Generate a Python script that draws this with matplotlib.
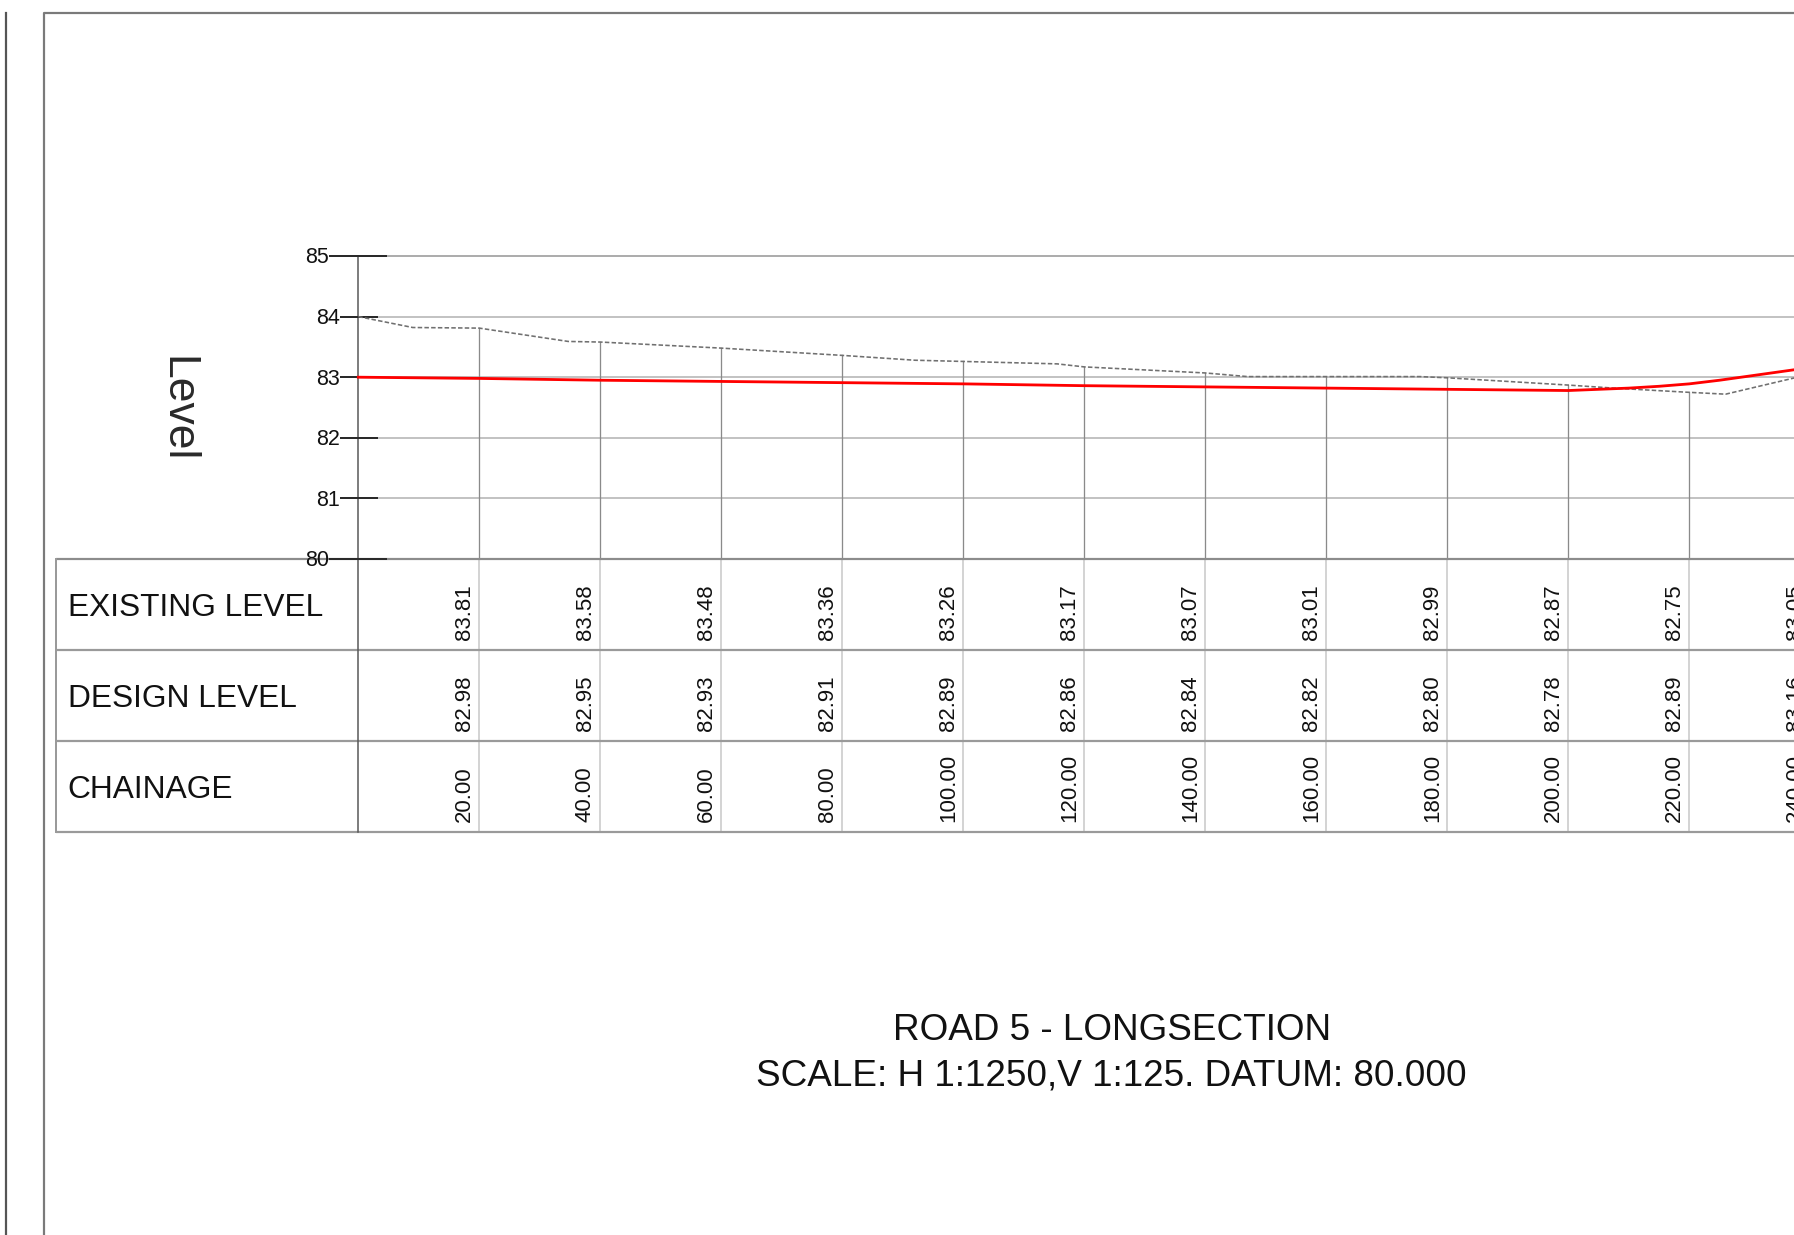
import matplotlib
matplotlib.use("Agg")
import matplotlib.pyplot as plt
from matplotlib.lines import Line2D

plt.rcParams['font.family'] = ['Liberation Sans', 'DejaVu Sans']

# ---------------- data ----------------
# existing ground profile (chainage m, level m)
existing_chainage = [0, 9, 20, 34.7, 40, 60, 80, 92, 100, 115.5, 120, 140, 147, 160,
                     175.5, 180, 200, 207.5, 220, 226, 240]
existing_level = [84.00, 83.82, 83.81, 83.59, 83.58, 83.48, 83.36, 83.28, 83.26, 83.22,
                  83.17, 83.07, 83.01, 83.01, 83.01, 82.99, 82.87, 82.82, 82.75, 82.72, 83.05]

# design profile (chainage m, level m)
design_chainage = [0, 20, 40, 60, 80, 100, 120, 140, 160, 180, 200,
                   205, 210, 215, 220, 225, 230, 235, 240]
design_level = [83.00, 82.98, 82.95, 82.93, 82.91, 82.89, 82.86, 82.84, 82.82, 82.80, 82.78,
                82.80, 82.82, 82.85, 82.89, 82.95, 83.02, 83.09, 83.16]

# table values
table_chainage = [20, 40, 60, 80, 100, 120, 140, 160, 180, 200, 220, 240]
table_existing = [83.81, 83.58, 83.48, 83.36, 83.26, 83.17, 83.07, 83.01, 82.99, 82.87, 82.75, 83.05]
table_design = [82.98, 82.95, 82.93, 82.91, 82.89, 82.86, 82.84, 82.82, 82.80, 82.78, 82.89, 83.16]

level_ticks = [80, 81, 82, 83, 84, 85]
row_labels = ["EXISTING LEVEL", "DESIGN LEVEL", "CHAINAGE"]
title_lines = ["ROAD 5 - LONGSECTION", "SCALE: H 1:1250,V 1:125. DATUM: 80.000"]
y_label = "Level"

# ---------------- layout ----------------
W, H, DPI = 1794, 1235, 100
X0PX, SX = 358.3, 6.05      # px of chainage 0, px per metre
Y80PX, SY = 559.0, 60.6     # px of level 80 (from top), px per metre level


def cx(px):
    return (px - X0PX) / SX


def ly(py):
    return 80 - (py - Y80PX) / SY


def pt(px):
    return px * 72.0 / DPI


fig = plt.figure(figsize=(W / DPI, H / DPI), dpi=DPI)
ax = fig.add_axes([0, 0, 1, 1])
ax.set_xlim(cx(0), cx(W))
ax.set_ylim(ly(H), ly(0))
ax.axis('off')

x_right = cx(W + 40)
top_level = max(level_ticks)
datum = min(level_ticks)

# horizontal grid lines
for lv in level_ticks:
    if lv == datum:
        continue
    col = '#999999' if lv == top_level else '#b5b5b5'
    ax.plot([0, x_right], [lv, lv], color=col, lw=pt(1.6), zorder=1, solid_capstyle='butt')

# table geometry (rows of 1.5 level units under datum)
row_h = 1.5
row_edges = [datum - i * row_h for i in range(len(row_labels) + 1)]
table_left = cx(55.7)

# datum line + table row lines
for i, e in enumerate(row_edges):
    ax.plot([table_left, x_right], [e, e], color='#8c8c8c' if i == 0 else '#9a9a9a',
            lw=pt(2.2), zorder=2, solid_capstyle='butt')
ax.plot([table_left, table_left], [row_edges[0], row_edges[-1]], color='#9a9a9a',
        lw=pt(2), zorder=2)

# vertical lines in graph (from existing level to datum) and in table
for ch, ex in zip(table_chainage, table_existing):
    ax.plot([ch, ch], [ex, datum], color='#8a8a8a', lw=pt(1.3), zorder=1)
    ax.plot([ch, ch], [row_edges[0], row_edges[-1]], color='#d4d4d4', lw=pt(2), zorder=1)

# axis line at chainage 0
ax.plot([0, 0], [top_level, row_edges[-1]], color='#555555', lw=pt(1.5), zorder=3)

# ticks and tick labels
for lv in level_ticks:
    if lv in (top_level, datum):
        x1, x2 = cx(329), cx(387)
    else:
        x1, x2 = cx(340), cx(378)
    ax.plot([x1, x2], [lv, lv], color='#2a2a2a', lw=pt(2), zorder=4, solid_capstyle='butt')
    ax.text(x1, lv - 7.5 / SY, f"{lv}", ha='right', va='baseline', fontsize=15.5,
            color='#111111', zorder=5)

# profiles
ax.plot(existing_chainage, existing_level, color='#707070', lw=pt(1.6),
        linestyle=(0, (2.8, 1.4)), zorder=5)
ax.plot(design_chainage, design_level, color='#ff0000', lw=pt(2.8), zorder=6)

# y label
ax.text(cx(177), ly(409), y_label, rotation=-90, ha='center', va='center',
        fontsize=32, color='#2a2a2a', fontweight='light')

# row labels
for i, lab in enumerate(row_labels):
    center = (row_edges[i] + row_edges[i + 1]) / 2
    ax.text(cx(67.5), center - 11.4 / SY, lab, ha='left', va='baseline', fontsize=22.8,
            color='#111111')

# table numbers
rows_values = [
    [f"{v:.2f}" for v in table_existing],
    [f"{v:.2f}" for v in table_design],
    [f"{v:.2f}" for v in table_chainage],
]
for i, vals in enumerate(rows_values):
    bottom = row_edges[i + 1]
    for ch, s in zip(table_chainage, vals):
        ax.text(ch - 4.5 / SX, bottom + 10 / SY, s, rotation=90, ha='right', va='bottom',
                fontsize=16, color='#111111')

# title
ax.text(cx(1112), ly(1040), title_lines[0], ha='center', va='baseline', fontsize=26.6,
        color='#111111')
ax.text(cx(1111), ly(1085), title_lines[1], ha='center', va='baseline', fontsize=26.6,
        color='#111111')

# sheet frame lines (figure coordinates)
def fx(px):
    return px / W


def fy(py):
    return 1 - py / H


fig.add_artist(Line2D([fx(6), fx(6)], [fy(12.7), fy(H + 5)], color='#555555', lw=pt(2.2),
                      transform=fig.transFigure))
fig.add_artist(Line2D([fx(43.7), fx(43.7), fx(W + 5)], [fy(H + 5), fy(12.7), fy(12.7)],
                      color='#7a7a7a', lw=pt(2.2), transform=fig.transFigure))

fig.savefig("out.png", dpi=DPI, facecolor='white')
